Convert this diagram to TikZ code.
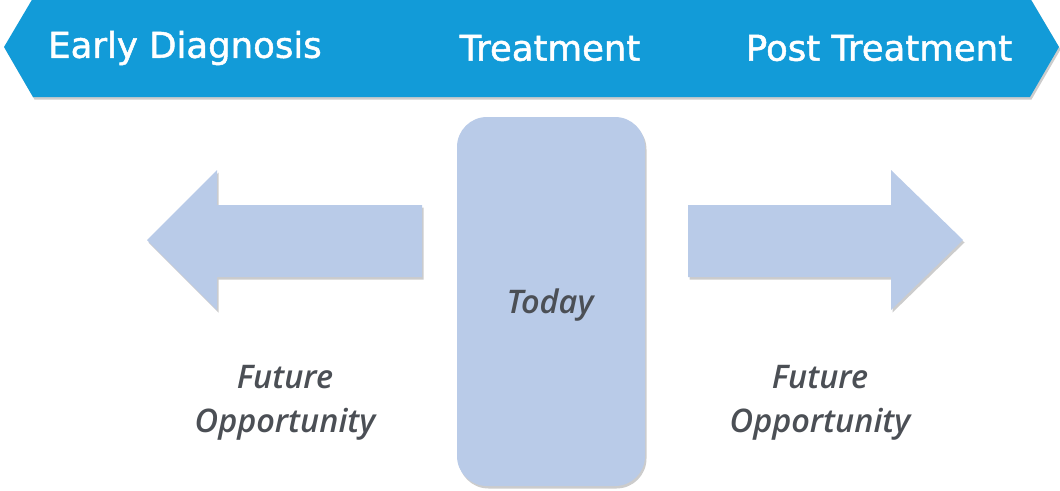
\documentclass[tikz,border=0pt]{standalone}
\usepackage{fontspec}
\setmainfont{Open Sans}
\newfontfamily\bannerfont{DejaVu Sans}[FakeBold=1.4]
\newfontfamily\labelfont{Open Sans}[ItalicFont=* Semibold Italic]
\usetikzlibrary{shadows}
\definecolor{bannerblue}{HTML}{129BD8}
\definecolor{paleblue}{HTML}{B9CBE8}
\definecolor{darkgray}{HTML}{4B4F55}
\begin{document}
\begin{tikzpicture}[x=1pt,y=-1pt,
  softshadow/.style={drop shadow={shadow xshift=1.5pt,shadow yshift=-2.5pt,fill=black,opacity=0.2}},
  bannertext/.style={text=white,font=\bannerfont\fontsize{35.5}{40}\selectfont,inner sep=0pt},
  graytext/.style={text=darkgray,font=\labelfont\fontsize{32.5}{44}\selectfont\itshape,align=center,inner sep=0pt}]
\useasboundingbox (0,0) rectangle (1060,490);
% banner
\fill[bannerblue,softshadow] (4,47) -- (33,-2) -- (1030,-2) -- (1059,47) -- (1030,97) -- (33,97) -- cycle;
\node[bannertext] (early) at (185,48) {Early Diagnosis};
\node[bannertext] (treat) at (550,48) {Treatment};
\node[bannertext] (post) at (879,48) {Post Treatment};
% today box
\fill[paleblue,rounded corners=30pt,softshadow] (457,117) rectangle (645,486);
\node[graytext] (today) at (550,305) {Today};
% left arrow
\fill[paleblue,softshadow] (147,240) -- (217,170) -- (217,205) -- (422,205) -- (422,277) -- (217,277) -- (217,310) -- cycle;
% right arrow
\fill[paleblue,softshadow] (963,240) -- (891,170) -- (891,205) -- (688,205) -- (688,277) -- (891,277) -- (891,310) -- cycle;
\node[graytext] (futl) at (285,403) {Future\\Opportunity};
\node[graytext] (futr) at (820,403) {Future\\Opportunity};
\end{tikzpicture}
\end{document}
